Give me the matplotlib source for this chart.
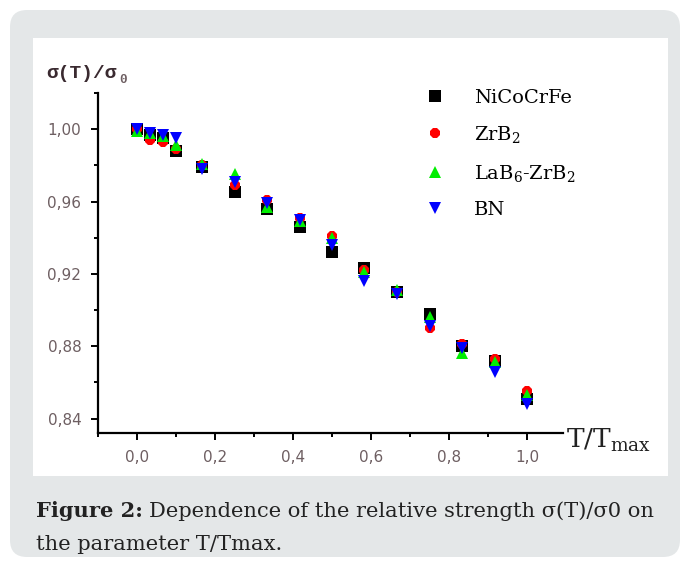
import matplotlib
matplotlib.use("Agg")
import matplotlib.pyplot as plt
from matplotlib.patches import FancyBboxPatch, Rectangle
from matplotlib.ticker import MultipleLocator, FuncFormatter

plt.rcParams["mathtext.fontset"] = "custom"
plt.rcParams["mathtext.rm"] = "DejaVu Serif"
plt.rcParams["mathtext.it"] = "DejaVu Serif:italic"
plt.rcParams["mathtext.bf"] = "DejaVu Serif:bold"

# relative temperature T/Tmax
t_rel = [0.0, 0.033, 0.067, 0.1, 0.167, 0.25, 0.333, 0.417, 0.5,
         0.583, 0.667, 0.75, 0.833, 0.917, 1.0]

# relative strength sigma(T)/sigma0 for each material
nicocrfe = [1.000, 0.997, 0.995, 0.988, 0.979, 0.965, 0.956, 0.946, 0.932,
            0.923, 0.910, 0.898, 0.880, 0.872, 0.851]
zrb2 = [1.000, 0.994, 0.993, 0.989, 0.980, 0.969, 0.961, 0.951, 0.941,
        0.922, 0.910, 0.890, 0.881, 0.873, 0.855]
lab6_zrb2 = [0.999, 0.998, 0.996, 0.991, 0.981, 0.975, 0.957, 0.949, 0.940,
             0.921, 0.911, 0.896, 0.876, 0.871, 0.853]
bn = [1.000, 0.998, 0.997, 0.995, 0.978, 0.971, 0.959, 0.950, 0.936,
      0.916, 0.909, 0.891, 0.879, 0.866, 0.848]

series = [
    ("NiCoCrFe", nicocrfe, "s", "black", 8),
    ("ZrB$_2$", zrb2, "8", "red", 8.5),
    ("LaB$_6$-ZrB$_2$", lab6_zrb2, "^", "#00ee00", 8.5),
    ("BN", bn, "v", "blue", 8.5),
]

W, H = 682, 562
fig = plt.figure(figsize=(W / 100, H / 100), dpi=100)
fig.patch.set_facecolor("white")


def fx(px):
    return px / W


def fy(py):
    return 1 - py / H


# grey card and white plot panel
card = FancyBboxPatch((fx(10), fy(557)), fx(670), 547 / H,
                      boxstyle="round,pad=0,rounding_size=0.025",
                      transform=fig.transFigure, facecolor="#e4e7e8",
                      edgecolor="none", mutation_aspect=W / H, zorder=-3)
fig.patches.append(card)
panel = Rectangle((fx(33), fy(476)), fx(668 - 33), (476 - 38) / H,
                  transform=fig.transFigure, facecolor="white",
                  edgecolor="none", zorder=-2)
fig.patches.append(panel)

ax = fig.add_axes([fx(98), fy(433), fx(563 - 98), (433 - 93) / H])
ax.set_facecolor("none")

for label, vals, mk, col, ms in series:
    ax.plot(t_rel, vals, linestyle="none", marker=mk, color=col,
            markersize=ms, markeredgewidth=0, label=label, clip_on=False)

ax.set_xlim(-0.1, 1.092)
ax.set_ylim(0.832, 1.02)
ax.xaxis.set_major_locator(MultipleLocator(0.2))
ax.xaxis.set_minor_locator(MultipleLocator(0.1))
ax.yaxis.set_major_locator(MultipleLocator(0.04))
ax.yaxis.set_minor_locator(MultipleLocator(0.02))
ax.xaxis.set_major_formatter(FuncFormatter(lambda v, p: f"{v:.1f}".replace(".", ",")))
ax.yaxis.set_major_formatter(FuncFormatter(lambda v, p: f"{v:.2f}".replace(".", ",")))

for s in ["top", "right"]:
    ax.spines[s].set_visible(False)
for s in ["left", "bottom"]:
    ax.spines[s].set_linewidth(1.6)
ax.tick_params(which="major", direction="out", length=5, width=1.4,
               labelsize=11, labelcolor="#6e5f62", pad=7)
ax.tick_params(which="minor", direction="out", length=3, width=1.4)
for lab in ax.get_xticklabels() + ax.get_yticklabels():
    lab.set_family("DejaVu Sans")

fig.text(fx(46), fy(73), "σ(T)/σ", fontsize=14, weight="bold",
         family="Liberation Mono", color="#3a2a30", va="center")
fig.text(fx(119), fy(80), "0", fontsize=9, weight="bold",
         family="Liberation Mono", color="#6e5f62", va="center")
fig.text(fx(566), fy(440), "T/T$_{\\mathrm{max}}$", fontsize=19,
         family="DejaVu Serif", color="#222222", va="center")

ax.legend(loc="upper left", bbox_to_anchor=(fx(416), fy(79)),
          bbox_transform=fig.transFigure, frameon=False, handlelength=1.0,
          handletextpad=1.5, labelspacing=0.9, borderpad=0,
          prop={"family": "DejaVu Serif", "size": 14})

# caption with bold lead-in
cap_size = 15.1
lead = fig.text(fx(36), fy(511), "Figure 2:", fontsize=cap_size,
                family="DejaVu Serif", weight="bold", va="center",
                color="#222222")
fig.canvas.draw()
bb = lead.get_window_extent()
fig.text((bb.x1 + 6) / W, fy(511),
         "Dependence of the relative strength σ(T)/σ0 on",
         fontsize=cap_size, family="DejaVu Serif", va="center",
         color="#222222")
fig.text(fx(36), fy(544), "the parameter T/Tmax.", fontsize=cap_size,
         family="DejaVu Serif", va="center", color="#222222")

plt.savefig("out.png", dpi=100)
